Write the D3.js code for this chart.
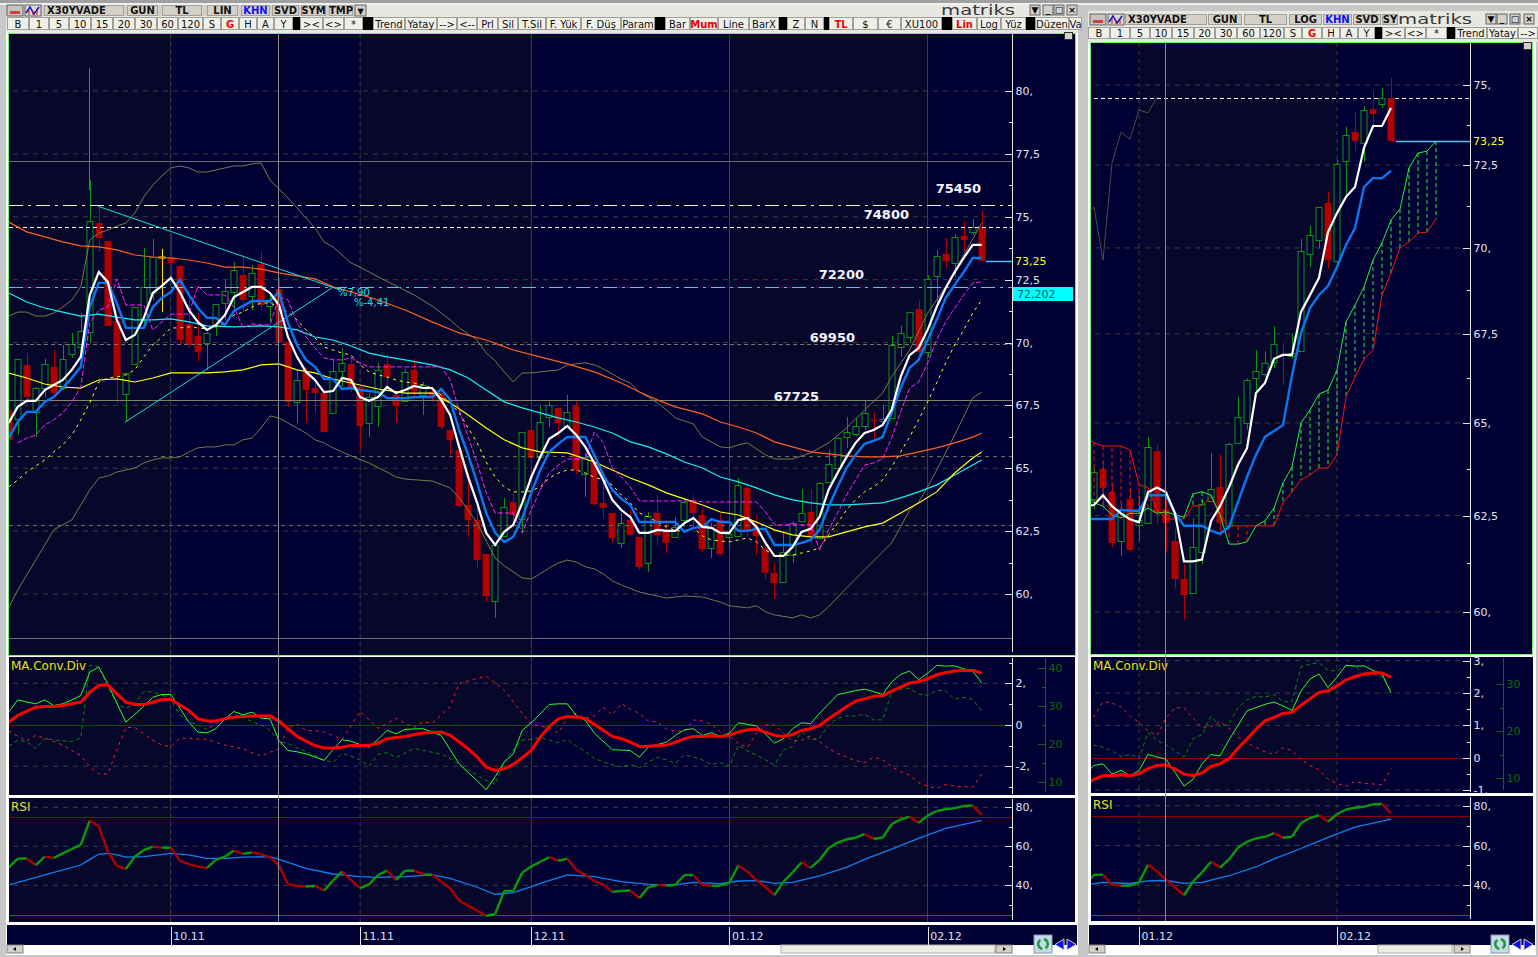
<!DOCTYPE html>
<html>
<head>
<meta charset="utf-8">
<script src="https://d3js.org/d3.v7.min.js"></script>
<style>
html, body { margin: 0; padding: 0; background: #c8c8c8; overflow: hidden; }
text { font-family: "DejaVu Sans", sans-serif; }
.tick line { shape-rendering: crispEdges; }
</style>
</head>
<body>
<div id="app"></div>
<script>
// candles, bar 0 .. bar 108
const open = [67.32,66.96,69.11,67.24,68.19,69.03,68.19,69.54,69.82,70.42,
  74.75,74.04,70.86,67.95,69.15,70.90,71.97,73.38,73.40,73.04,
  70.74,70.26,69.98,70.70,71.57,72.01,72.68,71.85,73.12,71.45,
  72.13,70.02,67.64,68.83,68.19,67.99,67.20,68.87,69.15,68.23,
  66.80,67.48,69.15,67.91,67.68,68.91,67.91,68.03,67.99,66.52,
  65.73,63.54,62.94,61.59,59.72,62.31,63.66,62.98,66.52,65.45,
  67.04,67.40,66.68,67.48,64.77,65.25,63.62,63.22,62.03,62.94,
  62.27,61.23,63.22,62.47,62.27,62.94,63.74,63.14,61.83,62.94,
  62.27,62.31,64.22,62.67,61.83,60.84,60.48,61.55,62.90,63.26,
  62.23,64.46,65.01,66.24,66.36,66.68,66.92,66.88,67.0,69.82,
  70.22,71.33,69.62,72.65,73.52,73.16,74.24,74.39,74.59];
const high = [67.32,69.35,69.58,68.23,69.35,69.70,69.90,70.38,71.17,76.46,
  75.43,74.04,70.86,68.79,71.41,73.76,74.12,73.72,74.35,73.08,
  71.81,71.17,70.42,71.53,72.49,73.20,73.48,73.08,73.60,71.89,
  72.57,70.02,68.91,68.99,68.39,67.99,69.31,69.78,69.50,68.27,
  67.99,69.19,69.54,68.11,68.95,69.35,68.43,68.11,68.11,66.52,
  65.73,64.81,63.62,61.59,62.03,63.82,64.02,66.44,66.84,67.52,
  67.64,67.40,67.91,67.68,65.61,65.33,64.42,63.22,63.22,63.34,
  62.27,63.26,63.94,62.94,63.06,63.78,63.94,63.38,62.82,63.22,
  63.02,64.61,64.42,63.14,62.15,61.23,62.43,62.90,64.18,64.14,
  64.46,65.73,66.24,67.04,67.0,67.72,67.24,67.52,70.26,70.66,
  71.21,71.69,72.68,73.68,74.16,74.32,74.83,74.91,75.23];
const low = [66.12,66.32,67.52,66.24,67.83,67.83,68.11,69.39,69.58,69.98,
  73.60,70.66,67.60,66.84,69.15,70.70,71.69,71.21,72.29,69.90,
  69.78,69.23,68.91,70.26,70.90,71.29,71.21,71.29,71.29,70.82,
  69.98,67.44,66.80,66.80,67.20,66.44,67.20,68.23,68.03,65.73,
  66.24,66.64,68.11,66.80,67.64,67.83,67.12,67.64,66.52,65.53,
  63.42,62.27,61.04,59.68,59.05,62.27,62.63,62.43,65.25,65.45,
  66.64,66.24,66.64,64.77,63.86,63.50,63.02,62.03,61.83,62.35,
  60.96,60.88,61.95,61.63,62.23,62.67,62.67,61.67,61.43,61.55,
  61.83,62.31,62.27,61.55,60.60,59.80,60.48,61.23,62.86,61.95,
  62.19,64.46,64.81,65.81,66.28,66.52,66.05,66.80,67.0,69.43,
  69.98,69.39,69.43,71.57,72.96,72.60,73.60,74.28,73.25];
const close = [66.12,69.35,67.83,68.19,69.15,67.99,69.35,69.94,70.46,74.83,
  74.16,70.66,68.63,68.79,71.41,72.21,73.40,73.38,73.16,70.10,
  69.90,69.62,70.38,71.53,72.05,72.88,71.69,72.77,71.49,71.61,
  70.02,67.64,68.51,68.11,67.99,66.44,68.87,69.19,68.23,66.68,
  67.83,68.91,68.63,67.48,68.83,68.07,68.31,67.79,66.64,66.13,
  63.50,62.94,61.35,59.92,61.95,63.46,63.14,66.44,65.41,66.84,
  67.52,66.80,67.24,64.93,65.45,63.58,63.42,62.23,62.82,62.35,
  61.08,63.10,62.35,62.03,62.67,63.66,63.22,61.79,62.67,61.59,
  62.39,64.34,62.55,62.31,60.84,60.44,61.67,62.82,63.22,62.31,
  64.42,65.17,66.20,66.44,66.68,67.20,66.88,66.96,69.90,70.38,
  71.21,69.62,72.53,73.44,73.24,74.2,74.08,74.59,73.25];

// moving averages on the left chart, one value per bar from bar 0
const fastMA = [66.80,67.44,67.68,67.68,68.11,68.31,68.51,68.91,69.43,71.89,
  72.80,72.41,70.90,70.10,70.30,70.98,71.97,72.25,72.57,72.01,
  71.29,70.82,70.50,70.70,71.09,71.81,72.01,72.21,72.21,71.97,
  71.49,70.22,69.43,68.83,68.51,68.03,68.07,68.59,68.51,67.83,
  67.68,67.83,68.23,67.99,68.11,68.27,68.19,68.19,67.72,67.12,
  65.85,64.65,63.62,62.43,61.95,62.47,62.75,63.62,64.65,65.45,
  66.17,66.40,66.68,66.32,65.85,65.21,64.53,63.74,63.34,63.06,
  62.43,62.43,62.55,62.51,62.51,62.82,63.02,62.67,62.63,62.43,
  62.43,62.94,63.02,62.67,62.03,61.51,61.51,61.87,62.47,62.59,
  63.06,64.14,64.81,65.45,66.01,66.40,66.52,66.72,67.32,68.63,
  69.50,69.78,70.50,71.41,72.17,72.80,73.36,73.88,73.88];
const slowMA = [66.20,66.84,67.24,67.24,67.64,67.83,68.19,68.59,69.03,71.41,
  72.37,72.37,71.57,70.58,70.58,70.58,71.41,71.77,72.01,72.49,
  71.89,71.37,70.98,70.98,70.70,71.25,71.45,71.65,71.65,71.65,
  72.01,70.78,69.90,69.31,69.03,68.55,68.55,68.15,68.19,68.11,
  68.07,68.03,67.79,67.79,67.79,67.83,67.83,67.83,68.15,67.72,
  66.52,65.53,64.42,63.22,62.43,62.07,62.27,63.02,64.02,64.93,
  65.65,65.97,66.24,66.24,66.24,65.53,64.73,64.14,63.78,63.54,
  62.86,62.86,62.86,62.86,62.86,62.47,62.63,62.67,62.98,62.86,
  62.86,62.51,62.51,62.59,62.59,61.95,61.95,61.95,62.03,62.15,
  62.55,63.46,64.26,65.01,65.53,65.97,66.09,66.24,67.20,68.19,
  68.99,69.31,70.10,70.90,71.77,72.29,72.80,73.36,73.36];
// from bar 1
const magentaMA = [66.01,66.20,66.32,66.72,66.92,67.20,67.64,68.23,70.78,71.29,
  71.41,72.53,71.49,71.49,71.49,70.50,70.82,71.13,71.13,71.13,
  72.25,71.89,71.89,71.89,71.41,70.58,70.74,70.70,70.70,71.81,
  71.69,70.78,70.22,69.78,69.39,69.31,69.31,69.39,69.19,69.03,
  69.03,69.03,69.03,69.03,69.03,69.03,69.03,69.03,68.51,67.32,
  66.24,65.21,64.02,63.22,63.22,63.22,62.43,63.34,64.14,64.81,
  65.13,65.37,65.37,65.37,66.44,66.01,65.01,64.65,64.26,63.70,
  63.70,63.70,63.70,63.70,63.70,63.70,63.66,63.66,63.66,63.66,
  63.66,63.66,63.66,63.26,62.75,62.75,62.75,62.75,62.75,61.75,
  62.55,63.22,63.94,64.53,65.13,65.21,65.37,66.20,67.24,68.19,
  68.43,69.19,70.10,70.82,71.37,71.89,72.37,72.41];
const yellowDashMA = [64.26,64.53,64.85,65.09,65.33,65.65,65.93,66.32,66.92,67.60,
  68.43,68.59,68.63,68.71,68.91,69.43,69.90,70.22,70.58,70.58,
  70.62,70.58,70.54,70.62,70.78,71.09,71.21,71.41,71.57,71.57,
  71.41,71.21,70.90,70.50,70.18,69.82,69.70,69.58,69.50,69.11,
  68.83,68.71,68.63,68.51,68.43,68.39,68.31,68.19,67.91,67.60,
  67.20,66.60,66.01,65.25,64.65,64.26,64.06,64.06,64.10,64.26,
  64.61,64.81,64.93,64.93,64.81,64.65,64.53,64.34,63.94,63.62,
  63.22,63.06,62.86,62.67,62.51,62.51,62.63,62.31,62.15,62.11,
  62.07,62.15,62.23,62.07,61.75,61.55,61.55,61.55,61.63,61.71,
  61.83,62.35,62.82,63.34,63.74,64.06,64.26,64.53,65.05,65.65,
  66.24,66.92,67.64,68.39,69.19,69.90,70.50,71.17,71.69];

// long averages and bands, [bar, value]
const yellowMA = [[0,68.79],[2,68.59],[4,68.35],[6,68.23],[8,68.19],[9,68.35],[10,68.51],[12,68.55],[14,68.43],[16,68.59],[18,68.79],[22,68.79],[24,68.83],[26,68.91],[28,69.11],[30,69.15],[32,68.91],[34,68.79],[36,68.55],[38,68.39],[41,68.15],[44,67.99],[47,67.99],[49,67.60],[51,67.12],[53,66.60],[55,66.13],[57,65.81],[59,65.65],[62,65.61],[65,65.25],[67,64.93],[69,64.61],[71,64.34],[73,64.02],[75,63.78],[77,63.54],[79,63.26],[81,63.14],[83,62.86],[85,62.55],[87,62.35],[89,62.27],[91,62.27],[93,62.47],[95,62.67],[97,62.82],[99,63.22],[101,63.62],[103,64.06],[105,64.81],[107,65.41],[108,65.65]];
const cyanMA = [[0,71.97],[2,71.61],[4,71.37],[6,71.21],[8,71.05],[10,71.13],[12,71.01],[14,70.90],[16,70.90],[18,70.94],[20,70.82],[22,70.66],[25,70.62],[28,70.66],[30,70.62],[32,70.50],[34,70.22],[36,70.10],[38,69.86],[40,69.58],[42,69.43],[44,69.31],[47,69.11],[49,68.91],[51,68.59],[53,68.11],[55,67.64],[57,67.40],[59,67.20],[61,67.0],[63,66.84],[65,66.64],[67,66.40],[69,66.05],[71,65.85],[73,65.57],[75,65.25],[77,65.01],[79,64.65],[81,64.46],[83,64.22],[85,63.94],[87,63.74],[89,63.62],[91,63.54],[93,63.54],[95,63.58],[97,63.62],[99,63.82],[101,64.06],[103,64.34],[105,64.73],[107,65.13],[108,65.33]];
const orangeMA = [[0,74.79],[2,74.40],[4,74.20],[6,74.0],[8,73.84],[10,73.80],[12,73.68],[14,73.48],[16,73.40],[18,73.36],[20,73.28],[22,73.16],[24,73.0],[26,73.0],[28,72.92],[30,72.77],[32,72.65],[34,72.53],[36,72.21],[38,72.01],[41,71.69],[44,71.29],[47,70.82],[50,70.38],[53,70.10],[56,69.70],[59,69.43],[62,69.15],[65,68.83],[68,68.39],[70,68.03],[72,67.72],[74,67.44],[77,67.16],[79,66.84],[81,66.64],[83,66.40],[85,66.05],[87,65.85],[89,65.65],[91,65.57],[93,65.49],[95,65.45],[97,65.45],[99,65.49],[101,65.65],[103,65.81],[105,66.01],[107,66.24],[108,66.40]];
const bandUpper = [[0,71.05],[1,71.21],[2,71.21],[3,71.05],[4,71.05],[5,71.17],[6,71.41],[7,71.69],[8,72.21],[9,74.08],[10,74.35],[11,74.47],[12,74.63],[13,74.75],[14,75.15],[15,75.79],[16,76.26],[17,76.62],[18,76.94],[19,77.02],[20,76.94],[21,76.78],[22,76.78],[23,76.86],[24,76.94],[25,77.02],[26,77.02],[27,77.10],[28,77.14],[29,76.46],[30,76.10],[31,75.75],[32,75.35],[33,74.95],[34,74.55],[35,74.0],[36,73.80],[37,73.48],[38,73.16],[39,73.0],[41,72.61],[43,72.25],[45,71.89],[47,71.45],[49,70.90],[50,70.58],[52,70.10],[53,69.58],[54,69.27],[55,68.83],[56,68.43],[57,68.79],[58,68.79],[60,68.87],[61,68.91],[62,69.11],[63,69.15],[64,69.19],[65,69.11],[66,68.95],[67,68.75],[68,68.55],[69,68.39],[70,68.03],[71,67.83],[72,67.60],[73,67.32],[74,67.0],[75,66.88],[76,66.76],[77,66.24],[79,65.85],[80,65.81],[81,65.93],[82,66.01],[83,65.77],[84,65.53],[85,65.37],[87,65.37],[89,65.61],[91,66.01],[93,66.60],[95,67.32],[97,67.99],[98,68.63],[100,69.70],[102,71.17],[104,72.21],[106,73.48],[108,74.75]];
const bandLower = [[0,59.45],[1,60.16],[2,60.76],[3,61.35],[4,61.95],[5,62.55],[6,62.75],[7,62.94],[8,63.54],[9,64.14],[10,64.61],[11,64.69],[12,64.85],[13,64.93],[14,65.01],[15,65.21],[16,65.33],[17,65.41],[18,65.41],[19,65.45],[20,65.65],[21,65.81],[22,65.85],[23,65.85],[24,65.93],[25,65.93],[26,66.13],[27,66.20],[28,66.60],[29,67.08],[30,67.0],[31,66.80],[32,66.60],[33,66.40],[34,66.13],[35,66.01],[36,65.81],[37,65.65],[38,65.49],[40,65.21],[42,64.85],[43,64.65],[44,64.57],[47,64.49],[49,64.22],[50,63.82],[51,63.34],[52,62.82],[53,62.11],[54,61.43],[55,61.12],[56,60.88],[57,60.64],[58,60.60],[59,60.80],[60,61.04],[61,61.23],[62,61.35],[63,61.27],[64,61.08],[65,61.0],[66,60.80],[67,60.52],[68,60.36],[70,60.08],[73,59.84],[75,59.92],[77,59.88],[79,59.68],[80,59.53],[82,59.45],[83,59.53],[84,59.29],[85,59.17],[87,59.05],[88,59.17],[89,59.05],[90,59.17],[91,59.49],[93,60.24],[95,60.96],[97,61.67],[98,62.03],[99,62.67],[100,63.34],[101,63.66],[102,64.26],[103,64.93],[105,66.32],[107,67.79],[108,68.03]];

// right chart lines, one value per bar, from bar 74
const rightFast = [62.75,62.78,63.04,62.75,62.56,62.40,62.32,63.12,63.25,63.12,62.56,61.30,61.30,61.35,62.35,62.75,63.25,63.86,64.31,65.83,66.11,66.79,66.90,66.90,68.13,68.62,69.12,70.47,71.04,71.53,71.83,73.03,73.71,73.71,74.27];
const rightSlow = [62.41,62.41,62.41,62.41,62.65,62.63,62.63,63.04,63.04,63.04,62.56,62.23,62.23,62.23,62.10,62.02,62.20,62.86,63.53,64.13,64.62,64.78,64.94,66.33,67.52,68.24,68.62,68.88,69.44,70.09,70.59,71.83,72.10,72.10,72.32];
// these two run past the last bar
const spanRed = [64.59,64.45,64.37,64.37,64.37,64.26,63.32,63.25,62.65,62.41,62.41,62.41,62.76,62.76,63.0,62.52,62.23,62.23,62.23,62.23,62.23,62.23,62.84,63.13,63.45,63.59,63.77,63.77,64.13,65.72,66.28,66.79,67.04,68.62,69.26,70.0,70.18,70.44,70.47,70.86];
const spanGreen = [63.08,62.84,62.75,62.52,62.44,62.56,62.56,62.70,62.56,62.60,62.52,62.46,63.08,63.13,63.05,62.52,61.75,61.75,61.81,62.23,62.36,62.70,63.37,63.80,65.0,65.36,65.80,65.91,66.47,67.84,68.33,68.85,69.64,70.15,70.83,71.16,72.41,72.87,72.93,73.24];
const greyLine = [70.98,71.22,69.64,72.56,73.52,73.30,74.21,74.12,74.62];

// MACD panel, from bar 0
const macdThick = [0.13,0.45,0.66,0.85,0.88,0.88,0.93,1.01,1.09,1.57,
  1.90,1.93,1.49,1.09,0.98,0.98,1.09,1.22,1.22,0.95,
  0.69,0.29,0.18,0.18,0.29,0.37,0.40,0.42,0.42,0.42,
  0.18,-0.19,-0.56,-0.79,-1.0,-1.12,-1.12,-1.08,-1.0,-1.0,
  -1.0,-0.88,-0.67,-0.61,-0.56,-0.48,-0.40,-0.37,-0.35,-0.51,
  -0.83,-1.16,-1.56,-2.04,-2.20,-2.12,-1.91,-1.58,-1.24,-0.59,
  -0.08,0.29,0.40,0.37,0.29,0.02,-0.27,-0.56,-0.67,-0.84,
  -1.04,-1.03,-1.0,-0.98,-0.84,-0.67,-0.56,-0.56,-0.53,-0.56,
  -0.50,-0.34,-0.24,-0.22,-0.35,-0.51,-0.56,-0.47,-0.27,-0.19,
  -0.03,0.29,0.58,0.88,1.14,1.25,1.37,1.40,1.62,1.82,
  2.02,2.07,2.22,2.41,2.51,2.59,2.63,2.62,2.49];
const macdThin = [0.61,1.2,1.1,1.01,1.2,0.93,1.01,1.2,1.41,2.54,
  2.78,1.98,1.05,0.13,0.5,0.9,1.33,1.46,1.46,0.8,
  0.13,-0.35,-0.39,-0.19,0.29,0.64,0.48,0.61,0.32,0.29,
  -0.75,-1.24,-1.3,-1.4,-1.55,-1.72,-1.2,-0.72,-0.79,-0.95,
  -1.08,-0.7,-0.27,-0.43,-0.22,-0.2,-0.19,-0.35,-0.51,-1.2,
  -1.88,-2.3,-2.7,-3.13,-2.5,-1.8,-1.4,-0.27,0.1,0.53,
  0.98,1.01,1.01,0.45,0.21,-0.4,-0.8,-1.2,-1.22,-1.24,
  -1.56,-1.08,-0.95,-0.84,-0.51,-0.24,-0.19,-0.51,-0.39,-0.56,
  -0.4,0.1,0.02,-0.05,-0.45,-0.88,-0.67,-0.19,0.1,0.05,
  0.55,1.0,1.45,1.55,1.65,1.72,1.6,1.46,2.06,2.43,
  2.59,2.17,2.49,2.86,2.83,2.84,2.7,2.59,2.01];
const diMinus = [23.4,22.0,20.8,22.3,21.5,20.6,19.7,18.3,16.9,14.0,
  12.1,12.1,18.4,24.3,24.3,22.6,21.0,19.7,19.3,21.5,
  21.5,21.3,21.2,20.4,19.7,19.2,18.7,17.7,16.8,17.8,
  18.7,24.3,25.2,23.6,23.4,23.2,22.2,21.2,24.8,28.5,
  26.3,24.1,25.4,26.7,25.4,24.3,25.8,25.4,27.6,29.8,
  35.9,36.5,37.2,37.8,36.0,34.1,31.0,28.0,25.2,24.7,
  24.1,22.9,26.7,28.0,26.7,27.4,29.6,27.6,30.6,29.1,
  28.0,26.0,25.7,23.9,23.4,23.2,26.3,26.0,25.2,23.2,
  21.9,20.1,19.1,22.8,25.0,25.0,22.8,20.8,21.0,22.1,
  20.6,18.8,17.5,16.6,15.6,15.1,16.5,15.9,14.0,12.7,
  11.8,9.8,8.9,8.3,9.3,8.9,8.8,8.6,12.1];
const diPlus = [19.4,21.0,20.6,18.8,21.5,21.0,20.8,20.6,21.6,40.7,
  40.3,35.0,30.6,29.3,30.6,33.7,33.7,32.8,31.5,27.6,
  25.8,25.0,23.8,25.2,26.7,27.6,27.1,25.8,25.0,23.6,
  20.6,20.1,19.0,18.0,16.9,15.8,15.1,17.5,16.8,15.8,
  14.2,17.3,17.7,16.4,17.6,18.8,18.3,17.8,17.3,16.2,
  14.5,13.1,11.8,10.5,9.4,15.3,18.4,21.0,21.2,21.7,
  21.0,20.3,21.2,19.4,18.0,16.2,15.3,14.5,14.0,14.5,
  13.8,15.2,16.5,15.8,14.9,17.1,16.6,15.8,14.6,15.1,
  14.2,19.7,18.1,17.1,15.8,14.5,18.4,19.3,23.2,21.0,
  21.5,25.0,26.7,27.4,27.3,27.8,26.3,26.3,33.7,34.3,
  34.6,33.0,32.8,34.0,34.0,31.7,32.2,31.7,28.7];

// RSI panel, from bar 0
const rsiValues = [49.2,53.7,53.7,50.4,54.7,54.0,56.4,58.6,60.7,73.2,
  70.1,57.3,49.9,48.4,54.7,58.1,59.8,59.3,59.3,52.5,
  50.8,49.6,48.9,53.0,54.7,57.8,56.1,56.9,55.9,54.4,
  50.1,40.5,39.7,39.3,39.8,37.3,42.4,47.0,42.7,38.5,
  40.5,45.3,47.5,42.7,47.5,47.5,45.5,45.5,41.9,38.5,
  32.1,29.6,27.0,24.3,25.3,37.1,37.1,46.5,49.6,52.1,
  54.4,52.6,53.7,47.9,45.3,42.2,40.2,36.6,37.1,37.3,
  33.5,39.0,40.2,39.7,40.3,45.3,45.3,40.2,39.8,39.8,
  41.4,50.3,47.0,42.7,39.0,35.0,41.9,46.5,51.8,48.9,
  53.0,59.0,61.9,63.6,64.4,66.2,63.9,64.4,71.3,73.8,
  75.2,72.0,75.7,78.1,79.0,79.5,80.7,80.9,76.1];
const rsiAverage = [[0,40.2],[4,45.3],[8,50.4],[9,53.3],[10,55.9],[11,56.4],[12,55.6],[13,54.4],[15,54.7],[18,56.4],[20,55.6],[22,53.8],[24,53.8],[26,54.4],[29,54.7],[30,53.3],[33,48.7],[36,45.8],[39,44.4],[41,44.1],[44,44.4],[47,45.3],[49,43.6],[52,39.0],[54,35.4],[56,36.2],[58,39.3],[59,41.0],[62,45.3],[65,44.4],[68,41.9],[71,40.5],[74,40.2],[76,41.5],[79,40.9],[81,42.2],[83,42.4],[85,41.0],[87,41.5],[90,44.8],[93,49.2],[95,53.3],[98,58.5],[101,64.1],[104,69.2],[106,71.3],[108,73.3]];

// axes and horizontal levels
const monthBars = [18, 39, 58, 80, 102];
const monthLabels = ['10.11', '11.11', '12.11', '01.12', '02.12'];
const priceTicksLeft = [80, 77.5, 75, 72.5, 70, 67.5, 65, 62.5, 60];
const priceMinorLeft = [78.75, 76.25, 73.75, 71.25, 68.75, 66.25, 63.75, 61.25];
const priceTicksRight = [75, 72.5, 70, 67.5, 65, 62.5, 60];
const priceMinorRight = [73.75, 71.25, 68.75, 66.25, 63.75, 61.25];
const levelNames = ['75450', '74800', '72200', '69950', '67725'];
const levelValues = [75.45, 74.6, 72.2, 69.95, 67.725];
const lastPrice = 73.25;
const extraLevels = [77.2, 65.5, 62.75, 58.25];

const svg = d3.select('#app').append('svg').attr('width', 1538).attr('height', 957)
  .style('display', 'block');

const barX = d3.scaleLinear().domain([0, 108]).range([8.7, 981.7]);
const barXR = d3.scaleLinear().domain([0, 108]).range([419, 1391]);
const yMain = d3.scaleLinear().domain([60, 80]).range([594, 91]);
const yMainR = d3.scaleLog().domain([60, 75]).range([612, 85]);
const yMacd = d3.scaleLinear().domain([-2, 2]).range([766.3, 683.3]);
const yMacdR = d3.scaleLinear().domain([-1, 3]).range([790, 660.7]);
const yDi = d3.scaleLinear().domain([10, 40]).range([782, 667.7]);
const yDiR = d3.scaleLinear().domain([10, 30]).range([778.3, 684.3]);
const yRsi = d3.scaleLinear().domain([40, 80]).range([885.3, 807.3]);
const yRsiR = d3.scaleLinear().domain([40, 80]).range([885.3, 805.7]);

const NAVY = '#000033', TINT = '#07072b', GRID = '#3c3c3c';
const seq = (arr, start) => arr.map((v, i) => [start + i, v]);
const numFmt = v => {
  if (v === 0) return '0';
  const s = String(v).replace('.', ',');
  return Number.isInteger(v) ? s + ',' : s;
};

// background
svg.append('rect').attr('width', 1538).attr('height', 957).attr('fill', '#c8c8c8');
svg.append('rect').attr('width', 1538).attr('height', 3).attr('fill', '#a0a0a0');
svg.append('rect').attr('y', 3).attr('width', 1538).attr('height', 2).attr('fill', '#f0f0f0');
svg.append('rect').attr('x', 6).attr('y', 5).attr('width', 1072).attr('height', 950).attr('fill', '#fff');
svg.append('rect').attr('x', 1088).attr('y', 11).attr('width', 448).attr('height', 944).attr('fill', '#fff');

function clip(id, x, y, w, h) {
  svg.append('clipPath').attr('id', id).append('rect')
    .attr('x', x).attr('y', y).attr('width', w).attr('height', h);
  return svg.append('g').attr('clip-path', `url(#${id})`);
}

function drawLine(g, data, x, y, color, width, dash) {
  const line = d3.line().x(d => x(d[0])).y(d => y(d[1]));
  g.append('path').datum(data).attr('d', line).attr('fill', 'none')
    .attr('stroke', color).attr('stroke-width', width)
    .attr('stroke-dasharray', dash || null);
}

function frame(side) {
  const x = side.x;
  // only the months that fall inside this window
  const shown = monthBars.map((b, k) => ({ b, k })).filter(d => x(d.b) > side.left);
  const edges = [side.left, ...shown.map(d => x(d.b)), side.axis];
  const firstBand = shown[0].k;
  const bands = svg.append('g');
  const rows = [[side.top, side.mainBottom], [side.top2, side.bottom2], [side.top3, side.bottom3]];
  rows.forEach(([a, b]) => {
    edges.slice(0, -1).forEach((e, k) => {
      bands.append('rect').attr('x', e).attr('y', a)
        .attr('width', edges[k + 1] - e).attr('height', b - a)
        .attr('fill', (firstBand + k) % 2 === 0 ? TINT : NAVY);
    });
    bands.append('rect').attr('x', side.axis).attr('y', a)
      .attr('width', side.right - side.axis).attr('height', b - a).attr('fill', NAVY);
  });
  // bottom strip with month ticks
  svg.append('rect').attr('x', side.left - 2).attr('y', 925)
    .attr('width', side.right - side.left + 4).attr('height', 20).attr('fill', NAVY);
  const tAxis = d3.axisBottom(x).tickValues(shown.map(d => d.b)).tickSize(18)
    .tickFormat((d, i) => monthLabels[shown[i].k]).tickSizeOuter(0);
  const gT = svg.append('g').attr('transform', 'translate(0,927)').call(tAxis);
  gT.select('.domain').remove();
  gT.selectAll('line').attr('stroke', '#e8e8e8');
  gT.selectAll('text').attr('x', 2).attr('y', 5).attr('dy', '.71em').attr('text-anchor', 'start')
    .attr('fill', '#d8e0f0').attr('font-size', 11).attr('font-family', '"DejaVu Sans"');
  // month grid
  shown.forEach(d => {
    rows.forEach(([a, c]) => {
      svg.append('line').attr('x1', x(d.b)).attr('x2', x(d.b)).attr('y1', a).attr('y2', c)
        .attr('stroke', GRID).attr('stroke-dasharray', '4 4');
    });
  });
}

function valueAxis(gx, scale, majors, minors, color, textX, majorFmt) {
  const g = svg.append('g').attr('transform', `translate(${gx},0)`);
  const minor = d3.axisLeft(scale).tickValues(minors).tickSize(4).tickFormat('');
  const gm = g.append('g').call(minor);
  gm.select('.domain').remove();
  gm.selectAll('line').attr('stroke', color);
  const major = d3.axisLeft(scale).tickValues(majors).tickSize(8).tickFormat(majorFmt || numFmt);
  const ga = g.append('g').call(major);
  ga.select('.domain').remove();
  ga.selectAll('line').attr('stroke', color);
  ga.selectAll('text').attr('x', textX).attr('text-anchor', 'start').attr('fill', color)
    .attr('font-size', 11).attr('font-family', '"DejaVu Sans"');
}

function drawCandles(g, x, y, first) {
  const idx = d3.range(first, 109);
  const col = i => close[i] > open[i] ? '#0a9410' : close[i] < open[i] ? '#b00000' : '#ffe000';
  g.selectAll(null).data(idx).join('line')
    .attr('x1', i => Math.round(x(i)) + 0.5).attr('x2', i => Math.round(x(i)) + 0.5)
    .attr('y1', i => y(high[i])).attr('y2', i => y(low[i]))
    .attr('stroke', col);
  g.selectAll(null).data(idx).join('rect')
    .attr('x', i => Math.round(x(i)) - 3 + (close[i] < open[i] ? -0.5 : 0))
    .attr('width', i => close[i] < open[i] ? 7 : 6)
    .attr('y', i => Math.round(y(Math.max(open[i], close[i]))) + (close[i] > open[i] ? 0.5 : 0))
    .attr('height', i => Math.max(1, Math.round(y(Math.min(open[i], close[i])) - y(Math.max(open[i], close[i])))))
    .attr('fill', i => close[i] < open[i] ? '#b00000' : close[i] > open[i] ? NAVY : '#ffe000')
    .attr('stroke', i => close[i] < open[i] ? 'none' : col(i));
}

function drawGridY(g, side, ys) {
  ys.forEach(v => g.append('line').attr('x1', side.left + 4).attr('x2', side.axis - 8)
    .attr('y1', v).attr('y2', v).attr('stroke', GRID).attr('stroke-dasharray', '5 5'));
}
function drawHLine(g, side, v, color, dash) {
  g.append('line').attr('x1', side.left).attr('x2', side.axis)
    .attr('y1', Math.round(v) + 0.5).attr('y2', Math.round(v) + 0.5)
    .attr('stroke', color).attr('stroke-dasharray', dash || null)
    .attr('shape-rendering', 'crispEdges');
}

function lowerPanels(side, macdY, diY, rsiY) {
  const x = side.x;
  const gm = clip(side.id + 'm', side.left, side.top2, side.axis - side.left, side.bottom2 - side.top2);
  drawGridY(gm, side, side.macdGrid.map(macdY));
  drawHLine(gm, side, macdY(0), '#8c0000');
  drawLine(gm, seq(diMinus, 0), x, diY, '#ff2020', 1, '3 4');
  drawLine(gm, seq(diPlus, 0), x, diY, '#0c840c', 1, '4 3');
  drawLine(gm, seq(macdThin, 0), x, macdY, '#28ff28', 1);
  drawLine(gm, seq(macdThick, 0), x, macdY, '#ff0000', 3);

  const gr = clip(side.id + 'r', side.left, side.top3, side.axis - side.left, side.bottom3 - side.top3);
  drawGridY(gr, side, [80, 60, 40].map(rsiY));
  drawHLine(gr, side, rsiY(75), '#8c0000');
  drawHLine(gr, side, rsiY(25), '#0a800a');
  drawLine(gr, rsiAverage, x, rsiY, '#1080f0', 1.3);
  d3.range(0, 108).forEach(i => {
    drawLine(gr, [[i, rsiValues[i]], [i + 1, rsiValues[i + 1]]], x, rsiY,
      rsiValues[i + 1] >= rsiValues[i] ? '#0a9a0a' : '#ac0000', 2.4);
  });

  svg.append('text').attr('x', side.left + 2).attr('y', side.top2 + 13)
    .attr('fill', '#e8e020').attr('font-size', 12).text('MA.Conv.Div');
  svg.append('text').attr('x', side.left + 2).attr('y', side.top3 + 13)
    .attr('fill', '#e8e020').attr('font-size', 12).text('RSI');
  svg.append('line').attr('x1', side.axis + 0.5).attr('x2', side.axis + 0.5).attr('y1', side.top2 + 1).attr('y2', side.bottom2 - 1).attr('stroke', '#e8e8e8');
  svg.append('line').attr('x1', side.axis + 0.5).attr('x2', side.axis + 0.5).attr('y1', side.top3 + 1).attr('y2', side.bottom3 - 2).attr('stroke', '#e8e8e8');
  svg.append('line').attr('x1', side.diAxis + 0.5).attr('x2', side.diAxis + 0.5).attr('y1', side.top2 + 1).attr('y2', side.bottom2 - 3).attr('stroke', '#0a6a0a');
  valueAxis(side.axis + 0.5, rsiY, [80, 60, 40], [70, 50, 30], '#e0e4f0', 3);
  valueAxis(side.diAxis + 0.5, diY, side.diMajor, side.diMinor, '#0a6a0a', 3, d => d);
}

// ---- left window
const sideL = {
  id: 'l', x: barX, left: 9, right: 1075, axis: 1012, top: 34, mainBottom: 655,
  top2: 657, bottom2: 795, top3: 798, bottom3: 922, diAxis: 1045,
  macdGrid: [2, -2], diMajor: [40, 30, 20, 10], diMinor: [35, 25, 15]
};
frame(sideL);
const gL = clip('mainL', 9, 34, 1003, 621);
drawGridY(gL, sideL, priceTicksLeft.map(yMain));
drawCandles(gL, barX, yMain, 0);
gL.append('line').attr('x1', 89.5).attr('x2', 89.5).attr('y1', 68).attr('y2', 190).attr('stroke', '#6a6a7a');
drawHLine(gL, sideL, yMain(extraLevels[0]), '#6a6a70');
drawHLine(gL, sideL, yMain(extraLevels[3]), '#6a6a70');
drawHLine(gL, sideL, yMain(extraLevels[1]), '#6e6e5a', '4 4');
drawHLine(gL, sideL, yMain(extraLevels[2]), '#6e6e5a', '4 4');
drawHLine(gL, sideL, yMain(levelValues[0]), '#f4f4b8', '14 5 3 5');
drawHLine(gL, sideL, yMain(levelValues[1]), '#ffffff', '4 3');
drawHLine(gL, sideL, yMain(levelValues[2]), '#10e8f0', '14 5 3 5');
drawHLine(gL, sideL, yMain(levelValues[3]), '#7a7a64', '4 3');
drawHLine(gL, sideL, yMain(levelValues[4]), '#84846e');
drawLine(gL, bandUpper, barX, yMain, '#78784a', 1);
drawLine(gL, bandLower, barX, yMain, '#78784a', 1);
drawLine(gL, orangeMA, barX, yMain, '#ff6020', 1.2);
drawLine(gL, cyanMA, barX, yMain, '#18f0f0', 1.2);
drawLine(gL, yellowMA, barX, yMain, '#ffff10', 1.2);
drawLine(gL, seq(yellowDashMA, 0), barX, yMain, '#ffff20', 1, '3 4');
drawLine(gL, seq(magentaMA, 1), barX, yMain, '#ff20ff', 1, '5 2');
// drawn trend lines
drawLine(gL, [[9.9, 75.42], [36.7, 72.1]], barX, yMain, '#10e0e0', 1);
drawLine(gL, [[12.9, 66.83], [36, 72.2]], barX, yMain, '#10e0e0', 1);
drawLine(gL, seq(slowMA, 0), barX, yMain, '#0a78f0', 2.4);
drawLine(gL, seq(fastMA, 0), barX, yMain, '#ffffff', 2.2);
gL.append('text').attr('x', 338).attr('y', 296).attr('fill', '#10e0e0').attr('font-size', 10).text('%7,90');
gL.append('text').attr('x', 354).attr('y', 306).attr('fill', '#10e0e0').attr('font-size', 10).text('%-4,41');

const labelAnchor = [981, 909, 864, 855, 819];
levelNames.forEach((t, i) => {
  svg.append('text').attr('x', labelAnchor[i]).attr('text-anchor', 'end')
    .attr('y', [193, 219, 279, 342, 401][i]).attr('fill', '#f4f4ff')
    .attr('font-size', 13).attr('font-weight', 'bold').text(t);
});
svg.append('line').attr('x1', 986).attr('x2', 1012).attr('y1', Math.round(yMain(lastPrice)) + 0.5)
  .attr('y2', Math.round(yMain(lastPrice)) + 0.5).attr('stroke', '#00f0f0').attr('stroke-width', 1.4);
svg.append('line').attr('x1', 1012.5).attr('x2', 1012.5).attr('y1', 34).attr('y2', 652).attr('stroke', '#e8e8e8');
valueAxis(1012.5, yMain, priceTicksLeft, priceMinorLeft, '#e0e4f0', 3);
svg.append('rect').attr('x', 1013).attr('y', 287).attr('width', 60).attr('height', 14).attr('fill', '#00ffff');
svg.append('text').attr('x', 1017).attr('y', 298).attr('fill', '#006060').attr('font-size', 11).text('72,202');
svg.append('text').attr('x', 1015).attr('y', yMain(lastPrice) + 4).attr('fill', '#ffff20').attr('font-size', 11).text('73,25');
lowerPanels(sideL, yMacd, yDi, yRsi);
valueAxis(1012.5, yMacd, [2, 0, -2], [3, 1, -1, -3], '#e0e4f0', 3);
svg.append('rect').attr('x', 8.5).attr('y', 33.5).attr('width', 1067).attr('height', 622)
  .attr('fill', 'none').attr('stroke', '#70f070');
svg.append('line').attr('x1', 278.5).attr('x2', 278.5).attr('y1', 30).attr('y2', 922).attr('stroke', '#8a8a8a');

// ---- right window
const sideR = {
  id: 'n', x: barXR, left: 1091, right: 1533, axis: 1470, top: 43, mainBottom: 655,
  top2: 657, bottom2: 793, top3: 796, bottom3: 921, diAxis: 1503,
  macdGrid: [3, 2, 1, -1], diMajor: [30, 20, 10], diMinor: [25, 15]
};
frame(sideR);
const gR = clip('mainR', 1091, 43, 379, 612);
drawGridY(gR, sideR, priceTicksRight.map(yMainR));
gR.append('line').attr('x1', 1094).attr('x2', 1470).attr('y1', Math.round(yMainR(levelValues[1])) + 0.5)
  .attr('y2', Math.round(yMainR(levelValues[1])) + 0.5).attr('stroke', '#fff').attr('stroke-dasharray', '4 3');
drawLine(gR, seq(greyLine, 74), barXR, yMainR, '#4c4c4c', 1);
drawCandles(gR, barXR, yMainR, 74);
// vertical hatching between the two spans
gR.selectAll(null).data(d3.range(74, 114)).join('line')
  .attr('x1', i => barXR(i)).attr('x2', i => barXR(i))
  .attr('y1', i => yMainR(spanGreen[i - 74])).attr('y2', i => yMainR(spanRed[i - 74]))
  .attr('stroke', i => spanGreen[i - 74] > spanRed[i - 74] ? '#20f040' : '#f01010')
  .attr('stroke-dasharray', '4 3');
drawLine(gR, seq(spanRed, 74), barXR, yMainR, '#ff1010', 1);
drawLine(gR, seq(spanGreen, 74), barXR, yMainR, '#20f040', 1);
drawLine(gR, seq(rightSlow, 74), barXR, yMainR, '#0a78f0', 2.4);
drawLine(gR, seq(rightFast, 74), barXR, yMainR, '#ffffff', 2.2);
svg.append('line').attr('x1', 1396).attr('x2', 1470).attr('y1', Math.round(yMainR(lastPrice)) + 0.5)
  .attr('y2', Math.round(yMainR(lastPrice)) + 0.5).attr('stroke', '#00f0f0').attr('stroke-width', 1.4);
svg.append('line').attr('x1', 1470.5).attr('x2', 1470.5).attr('y1', 43).attr('y2', 653).attr('stroke', '#e8e8e8');
valueAxis(1470.5, yMainR, priceTicksRight, priceMinorRight, '#e0e4f0', 3);
svg.append('text').attr('x', 1473).attr('y', yMainR(lastPrice) + 4).attr('fill', '#ffff20').attr('font-size', 11).text('73,25');
lowerPanels(sideR, yMacdR, yDiR, yRsiR);
valueAxis(1470.5, yMacdR, [3, 2, 1, 0, -1], [2.5, 1.5, 0.5, -0.5], '#e0e4f0', 3);
svg.append('rect').attr('x', 1090.5).attr('y', 42.5).attr('width', 442).attr('height', 612)
  .attr('fill', 'none').attr('stroke', '#70f070');
svg.append('line').attr('x1', 1165.5).attr('x2', 1165.5).attr('y1', 37).attr('y2', 921).attr('stroke', '#8a8a8a');

// ---- toolbars
const toolbarLeftTop = [['X30YVADE', 44, 124, 'start'], ['GUN', 127, 158], ['TL', 162, 202], ['LIN', 207, 238], ['KHN', 241, 270, 'blue'], ['SVD', 272, 299], ['SYM', 301, 326], ['TMP', 329, 353]];
const toolbarRightTop = [['X30YVADE', 1125, 1207, 'start'], ['GUN', 1208, 1242], ['TL', 1244, 1287], ['LOG', 1289, 1322], ['KHN', 1323, 1352, 'blue'], ['SVD', 1353, 1381], ['SY', 1382, 1398]];
const toolbarLeft = [['B',7,29],['1',29,49],['5',49,69],['10',69,91],['15',91,113],['20',113,135],['30',135,157],['60',157,178],['120',178,203],['S',203,221],['G',221,239,'red'],['H',239,257],['A',257,274],['Y',274,293],['><',300,323],['<>',323,344],['*',344,363],['Trend',373,405],['Yatay',405,437],['-->',437,457],['<--',457,477],['Prl',477,498],['Sil',498,518],['T.Sil',518,546],['F. Yük',546,581],['F. Düş',581,621],['Param',621,655],['Bar',665,690],['Mum',690,718,'red'],['Line',718,749],['BarX',749,779],['Z',787,805],['N',805,824],['TL',829,853,'red'],['$',853,878],['€',878,901],['XU100',901,942],['Lin',952,977,'red'],['Log',977,1001],['Yüz',1001,1026],['Düzen',1035,1069],['Va',1069,1082]];
const toolbarRight = [['B',1088,1110],['1',1110,1130],['5',1130,1150],['10',1150,1172],['15',1172,1194],['20',1194,1215],['30',1215,1237],['60',1237,1260],['120',1260,1284],['S',1284,1302],['G',1302,1322,'red'],['H',1322,1340],['A',1340,1358],['Y',1358,1375],['><',1382,1405],['<>',1405,1426],['*',1426,1447],['Trend',1455,1487],['Yatay',1487,1518],['-->',1518,1538]];

const tb = svg.append('g');
function blackBars(spans, y, h) {
  spans.forEach(([a, b]) => tb.append('rect').attr('x', a).attr('y', y).attr('width', b - a).attr('height', h).attr('fill', '#000'));
}
function row(items, y, h, fill, bold, size) {
  items.forEach(([label, a, b, kind]) => {
    tb.append('rect').attr('x', a + 0.5).attr('y', y + 0.5).attr('width', b - a - 1).attr('height', h - 1)
      .attr('fill', fill).attr('stroke', '#a0a098');
    tb.append('text').attr('x', kind === 'start' ? a + 3 : (a + b) / 2)
      .attr('text-anchor', kind === 'start' ? 'start' : 'middle').attr('y', y + h - 2)
      .attr('font-size', size).attr('font-weight', bold || kind === 'red' ? 'bold' : null)
      .attr('fill', kind === 'red' ? '#f00000' : kind === 'blue' ? '#1010f0' : '#101010')
      .text(label);
  });
}
function windowButtons(xs, y, w, h) {
  ['▼', '_', '□', '×'].forEach((g, i) => {
    tb.append('rect').attr('x', xs[i]).attr('y', y).attr('width', w).attr('height', h)
      .attr('fill', '#d4d0c8').attr('stroke', '#606060');
    tb.append('text').attr('x', xs[i] + w / 2).attr('text-anchor', 'middle').attr('y', y + h - 2)
      .attr('font-size', 9).attr('font-weight', 'bold').attr('fill', '#000').text(g);
  });
}
function appIcons(x, y) {
  tb.append('rect').attr('x', x).attr('y', y).attr('width', 16).attr('height', 11).attr('fill', '#c8c4bc').attr('stroke', '#606060');
  tb.append('rect').attr('x', x + 3).attr('y', y + 6).attr('width', 10).attr('height', 3).attr('fill', '#d04040');
  tb.append('rect').attr('x', x + 18).attr('y', y).attr('width', 16).attr('height', 11).attr('fill', '#e0d8d0').attr('stroke', '#606060');
  tb.append('path').attr('d', `M${x + 19},${y + 8}L${x + 23},${y + 2}L${x + 27},${y + 9}L${x + 32},${y + 2}`)
    .attr('fill', 'none').attr('stroke', '#1010c0').attr('stroke-width', 1.5);
  tb.append('path').attr('d', `M${x + 22},${y + 10}V${y + 5}M${x + 26},${y + 10}V${y + 6}M${x + 30},${y + 10}V${y + 5}`)
    .attr('stroke', '#d01010');
}
function logo(x, y, w) {
  tb.append('text').attr('x', x).attr('y', y).attr('font-size', 14).attr('fill', '#383838')
    .attr('textLength', w).attr('lengthAdjust', 'spacingAndGlyphs').text('matriks');
}

// left
tb.append('rect').attr('x', 6).attr('y', 5).attr('width', 1072).attr('height', 28).attr('fill', '#e8e8e2');
tb.append('rect').attr('x', 6).attr('y', 5).attr('width', 360).attr('height', 11).attr('fill', '#d4d0c8');
appIcons(7, 5);
row(toolbarLeftTop, 5, 11, '#d4d0c8', true, 10);
tb.append('rect').attr('x', 355).attr('y', 5).attr('width', 11).attr('height', 11).attr('fill', '#d4d0c8').attr('stroke', '#606060');
tb.append('text').attr('x', 360.5).attr('y', 14).attr('text-anchor', 'middle').attr('font-size', 8).text('▼');
logo(941, 15, 74);
windowButtons([1030, 1043, 1054, 1067], 5, 10, 10);
blackBars([[293, 300], [363, 373], [655, 665], [779, 787], [824, 829], [942, 952], [1026, 1035]], 17, 13);
row(toolbarLeft, 17, 13, '#f0f0ea', false, 10);
tb.append('rect').attr('x', 1064.5).attr('y', 32.5).attr('width', 8).attr('height', 7).attr('fill', '#d4d0c8').attr('stroke', '#303030');

// right
tb.append('rect').attr('x', 1088).attr('y', 11).attr('width', 450).attr('height', 31).attr('fill', '#e8e8e2');
appIcons(1090, 14);
row(toolbarRightTop, 14, 11, '#d4d0c8', true, 10);
logo(1398, 24, 74);
windowButtons([1486, 1497, 1510, 1524], 14, 10, 10);
blackBars([[1375, 1382], [1447, 1455]], 27, 12);
row(toolbarRight, 27, 12, '#f0f0ea', false, 10);
tb.append('rect').attr('x', 1523.5).attr('y', 42.5).attr('width', 8).attr('height', 7).attr('fill', '#d4d0c8').attr('stroke', '#303030');

// ---- scroll bars and the little buttons under the charts
function scrollbar(a, thumb, thumbEnd, b) {
  tb.append('rect').attr('x', a).attr('y', 945).attr('width', b - a).attr('height', 10).attr('fill', '#fff');
  tb.append('rect').attr('x', a).attr('y', 945).attr('width', 16).attr('height', 8).attr('fill', '#d4d0c8').attr('stroke', '#808080');
  tb.append('rect').attr('x', thumb).attr('y', 945).attr('width', thumbEnd - thumb).attr('height', 8).attr('fill', '#ecece4').attr('stroke', '#b0b0a8');
  tb.append('rect').attr('x', b - 16).attr('y', 945).attr('width', 16).attr('height', 8).attr('fill', '#d4d0c8').attr('stroke', '#808080');
  tb.append('path').attr('d', `M${a + 9},947v4l-3,-2z`).attr('fill', '#000');
  tb.append('path').attr('d', `M${b - 9},947v4l3,-2z`).attr('fill', '#000');
}
function refresh(x) {
  tb.append('rect').attr('x', x).attr('y', 935).attr('width', 18).attr('height', 18).attr('fill', '#c8d8e8').attr('stroke', '#8098b0');
  // two green arcs chasing each other
  const arc = d3.arc().innerRadius(3.5).outerRadius(6);
  [[0.2, 2.6], [3.3, 5.7]].forEach(([a, b]) => {
    tb.append('path').attr('transform', `translate(${x + 9},944)`)
      .attr('d', arc({ startAngle: a, endAngle: b })).attr('fill', '#18a040');
  });
  tb.append('path').attr('d', `M${x + 30},939v11l-9,-5.5z`).attr('fill', '#1010e0').attr('stroke', '#d0d0d0');
  tb.append('path').attr('d', `M${x + 33},939v11l9,-5.5z`).attr('fill', '#1010e0').attr('stroke', '#d0d0d0');
}
scrollbar(7, 781, 995, 1012);
refresh(1034);
scrollbar(1089, 1378, 1452, 1470);
refresh(1491);
</script>
</body>
</html>
